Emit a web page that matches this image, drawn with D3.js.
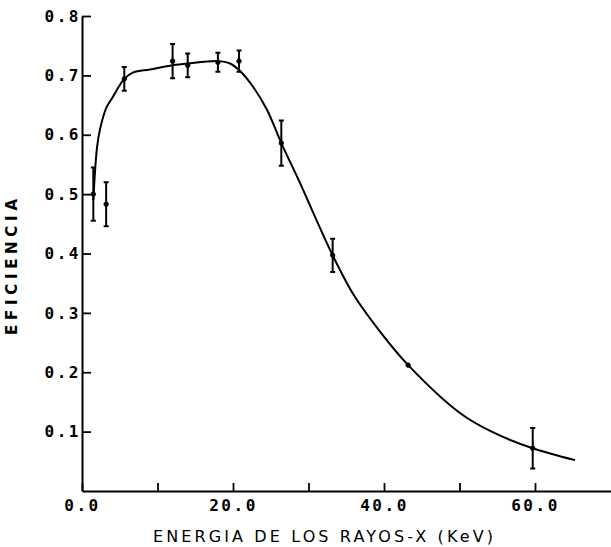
<!DOCTYPE html>
<html>
<head>
<meta charset="utf-8">
<script src="https://cdn.jsdelivr.net/npm/d3@7"></script>
<style>
  body { margin: 0; background: #fff; }
</style>
</head>
<body>
<div id="chart"></div>
<script>
const width = 611
const height = 547

// measured points (keV, efficiency, half error)
const energy = [1.5, 3.2, 5.6, 12.0, 14.0, 18.0, 20.8, 26.4, 33.2, 43.2, 59.7]
const efficiency = [0.50, 0.483, 0.694, 0.724, 0.717, 0.722, 0.724, 0.586, 0.397, 0.212, 0.072]
const errors = [0.045, 0.037, 0.02, 0.029, 0.02, 0.016, 0.018, 0.038, 0.028, 0, 0.034]

// hand drawn fitted curve
const curveE = [1.5, 2.0, 2.4, 3.2, 4.0, 5.6, 6.8, 9.0, 12.0, 14.0, 18.0, 19.6, 20.8, 22.7, 24.5, 26.4, 28.9, 31.0, 33.2, 36.0, 39.5, 43.2, 50.1, 54.4, 59.7, 65.3]
const curveEff = [0.49, 0.58, 0.61, 0.645, 0.662, 0.694, 0.705, 0.71, 0.717, 0.72, 0.724, 0.72, 0.709, 0.68, 0.642, 0.586, 0.518, 0.458, 0.397, 0.33, 0.268, 0.212, 0.131, 0.099, 0.072, 0.052]

const xTicks = [0, 10, 20, 30, 40, 50, 60]
const xLabels = [0, 20, 40, 60]
const yTicks = [0.1, 0.2, 0.3, 0.4, 0.5, 0.6, 0.7, 0.8]

const x = d3.scaleLinear().domain([0, 70]).range([82, 82 + 70 * 7.55])
const y = d3.scaleLinear().domain([0, 0.8]).range([491, 16])

const svg = d3.select('#chart').append('svg')
  .attr('width', width)
  .attr('height', height)

// x axis, ticks pointing up
const xAxis = svg.append('g')
  .attr('transform', 'translate(0,' + y(0) + ')')
  .call(d3.axisBottom(x)
    .tickValues(xTicks)
    .tickSizeInner(-8)
    .tickSizeOuter(0)
    .tickPadding(9)
    .tickFormat(d => xLabels.includes(d) ? d3.format('.1f')(d) : ''))
xAxis.select('.domain').attr('stroke-width', 2)
xAxis.selectAll('.tick line').attr('stroke-width', 1.8)
xAxis.selectAll('text')
  .attr('font-family', 'DejaVu Sans Mono')
  .attr('font-size', 16)
  .attr('font-weight', 'bold')
  .attr('letter-spacing', 2.5)
  .attr('fill', '#000')

// y axis, ticks pointing right
const yAxis = svg.append('g')
  .attr('transform', 'translate(' + x(0) + ',0)')
  .call(d3.axisLeft(y)
    .tickValues(yTicks)
    .tickSizeInner(-9)
    .tickSizeOuter(0)
    .tickPadding(1)
    .tickFormat(d3.format('.1f')))
yAxis.select('.domain').attr('stroke-width', 2)
yAxis.selectAll('.tick line').attr('stroke-width', 1.8)
yAxis.selectAll('text')
  .attr('font-family', 'DejaVu Sans Mono')
  .attr('font-size', 16)
  .attr('font-weight', 'bold')
  .attr('letter-spacing', 2.5)
  .attr('fill', '#000')

// fitted curve
const line = d3.line()
  .x((d, i) => x(curveE[i]))
  .y(d => y(d))
  .curve(d3.curveCatmullRom.alpha(0.5))

svg.append('path')
  .attr('d', line(curveEff))
  .attr('fill', 'none')
  .attr('stroke', '#000')
  .attr('stroke-width', 2)

// error bars
const pts = energy.map((e, i) => ({ e: e, v: efficiency[i], err: errors[i] }))
const bars = svg.append('g').attr('stroke', '#000')

bars.selectAll('.bar')
  .data(pts.filter(d => d.err > 0))
  .enter().append('path')
  .attr('class', 'bar')
  .attr('fill', 'none')
  .attr('stroke-width', 2)
  .attr('d', d => {
    const cx = x(d.e), y1 = y(d.v + d.err), y2 = y(d.v - d.err)
    return 'M' + (cx - 2.5) + ',' + y1 + 'H' + (cx + 2.5) +
      'M' + cx + ',' + y1 + 'V' + y2 +
      'M' + (cx - 2.5) + ',' + y2 + 'H' + (cx + 2.5)
  })

bars.selectAll('circle')
  .data(pts)
  .enter().append('circle')
  .attr('cx', d => x(d.e))
  .attr('cy', d => y(d.v))
  .attr('r', 2.2)
  .attr('fill', '#000')

// axis titles
svg.append('text')
  .attr('transform', 'translate(17,267) rotate(-90)')
  .attr('text-anchor', 'middle')
  .attr('font-family', 'DejaVu Sans')
  .attr('font-weight', 'bold')
  .attr('font-size', 15)
  .attr('textLength', 136)
  .attr('lengthAdjust', 'spacing')
  .text('EFICIENCIA')

svg.append('text')
  .attr('x', 323)
  .attr('y', 542)
  .attr('text-anchor', 'middle')
  .attr('font-family', 'DejaVu Sans')
  .attr('font-size', 16)
  .attr('textLength', 340)
  .attr('lengthAdjust', 'spacing')
  .text('ENERGIA DE LOS RAYOS-X (KeV)')
</script>
</body>
</html>
